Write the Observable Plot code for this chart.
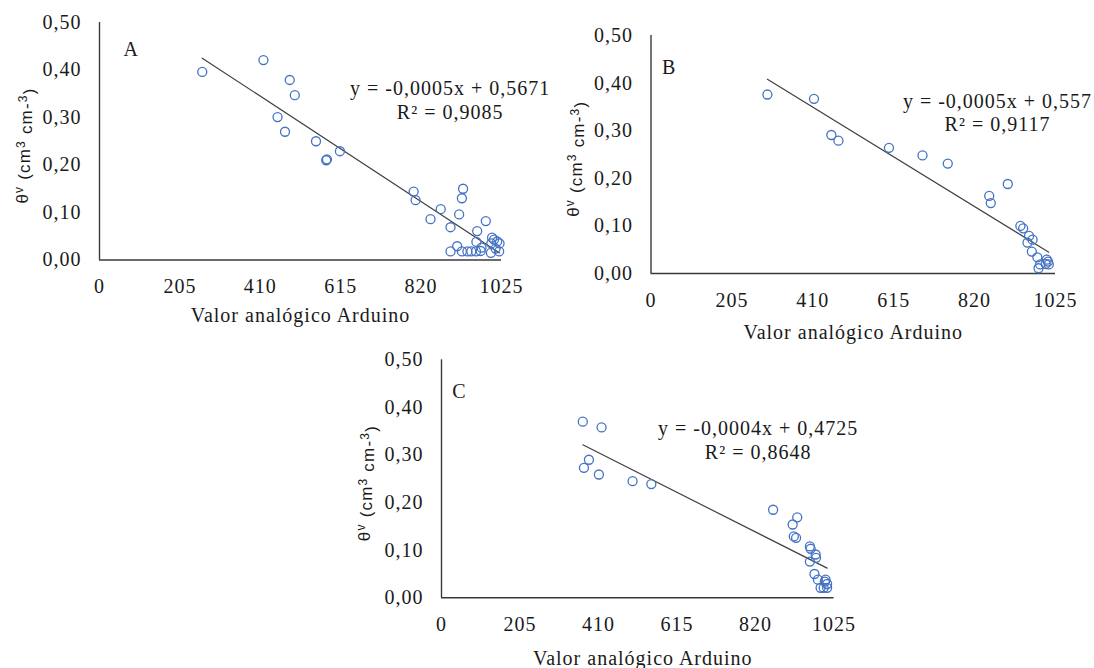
<!DOCTYPE html>
<html><head><meta charset="utf-8">
<script src="https://cdn.jsdelivr.net/npm/d3@7"></script>
<script src="https://cdn.jsdelivr.net/npm/@observablehq/plot@0.6"></script>
<style>
body{margin:0;background:#fff;}
#wrap{position:relative;width:1094px;height:668px;overflow:hidden;background:#fff;}
#wrap svg{position:absolute;}
#wrap svg text{font-family:"Liberation Serif","Times New Roman",serif !important;font-size:20px;letter-spacing:1px;}
#wrap svg text.ylab{font-family:"Liberation Sans",Arial,sans-serif !important;font-size:17px;letter-spacing:1.2px;}
</style></head><body><div id="wrap"></div>
<script>
const xTicks = [0, 205, 410, 615, 820, 1025];
const yTicks = [0, 0.1, 0.2, 0.3, 0.4, 0.5];
const xLabel = "Valor analógico Arduino";
const panelLetters = ["A", "B", "C"];
const equations = ["y = -0,0005x + 0,5671", "y = -0,0005x + 0,557", "y = -0,0004x + 0,4725"];
const rSquared = ["R² = 0,9085", "R² = 0,9117", "R² = 0,8648"];

const aX = [262,418,485,498,454,473,552,578,580,613,801,806,844,870,895,927,924,917,985,963,961,912,895,924,938,948,960,972,974,1001,1006,1014,999,1020,1019,998,1010];
const aY = [0.396,0.421,0.379,0.347,0.301,0.270,0.250,0.210,0.212,0.229,0.144,0.126,0.086,0.107,0.069,0.150,0.130,0.096,0.082,0.061,0.038,0.029,0.018,0.018,0.018,0.018,0.018,0.019,0.026,0.047,0.043,0.039,0.035,0.035,0.018,0.015,0.024];

const bX = [295,413,457,475,603,688,752,904,857,861,936,943,958,967,954,965,979,986,982,1003,1006,1008,1000];
const bY = [0.376,0.367,0.291,0.279,0.264,0.248,0.231,0.188,0.163,0.148,0.100,0.095,0.079,0.071,0.065,0.046,0.034,0.019,0.011,0.029,0.025,0.019,0.020];

const cX = [369,418,385,372,411,499,548,866,929,917,920,926,962,964,977,978,962,974,983,1003,1001,990,998,1007,1007];
const cY = [0.370,0.358,0.290,0.273,0.259,0.245,0.239,0.185,0.169,0.154,0.129,0.126,0.108,0.103,0.091,0.084,0.076,0.050,0.038,0.038,0.034,0.021,0.021,0.021,0.029];

const fmtY = d => d.toFixed(2).replace(".", ",");
const ink = "#1a1a1a";
const axisColor = "#3a3a3a";

function makePanel(xs, ys, i, c) {
  const data = xs.map((x, j) => ({x, y: ys[j]}));
  const plot = Plot.plot({
    width: c.w, height: c.h,
    marginLeft: c.ml, marginRight: c.mr, marginTop: c.mt, marginBottom: c.mb,
    x: {domain: [0, 1025]},
    y: {domain: [0, 0.5]},
    style: {fontFamily: "'Liberation Serif', 'Times New Roman', serif", fontSize: "20px", color: ink, background: "transparent", overflow: "visible"},
    marks: [
      Plot.axisX({ticks: xTicks, tickSize: 0, tickPadding: 19, label: null, tickFormat: d => String(d), fill: ink}),
      Plot.axisY({ticks: yTicks, tickSize: 0, tickPadding: 18, label: null, tickFormat: fmtY, fill: ink}),
      Plot.ruleY([0], {stroke: axisColor, strokeWidth: 1.4}),
      Plot.ruleX([0], {stroke: axisColor, strokeWidth: 1.4}),
      Plot.linearRegressionY(data, {x: "x", y: "y", ci: 0, stroke: "#404040", strokeWidth: 1.2}),
      Plot.dot(data, {x: "x", y: "y", r: 4.5, stroke: "#4472C4", strokeWidth: 1.3, fill: "none"}),
      Plot.text([equations[i]], {x: c.eqX, y: c.eqY1, text: d => d, fill: ink}),
      Plot.text([rSquared[i]], {x: c.eqX, y: c.eqY2, text: d => d, fill: ink}),
      Plot.text([panelLetters[i]], {x: c.lx, y: c.ly, text: d => d, fill: ink}),
      Plot.text([xLabel], {frameAnchor: "bottom", lineAnchor: "middle", dy: c.xlDy, dx: c.xlDx || 0, text: d => d, fill: ink})
    ]
  });
  plot.style.left = c.left + "px";
  plot.style.top = c.top + "px";
  const sx = plot.scale("x"), sy = plot.scale("y");
  const cx = sx.apply(0) - 77, cy = sy.apply(0.24);
  const t = d3.select(plot).append("text")
    .attr("class", "ylab")
    .attr("transform", `translate(${cx},${cy}) rotate(-90)`)
    .attr("text-anchor", "middle")
    .attr("dy", "0.35em")
    .attr("fill", ink);
  const parts = [["θ", false], ["v", true], [" (cm", false], ["3", true], [" cm-", false], ["3", true], [")", false]];
  let raised = false;
  for (const [s, sup] of parts) {
    const ts = t.append("tspan").text(s);
    if (sup && !raised) { ts.attr("dy", "-0.45em").style("font-size", "12px"); raised = true; }
    else if (!sup && raised) { ts.attr("dy", "0.45em"); raised = false; }
    else if (sup) ts.style("font-size", "12px");
  }
  document.getElementById("wrap").appendChild(plot);
}

makePanel(aX, aY, 0, {left: 0, top: 0, w: 560, h: 335, ml: 99, mr: 59, mt: 22, mb: 75.5,
  eqX: 894, eqY1: 0.360, eqY2: 0.311, lx: 81, ly: 0.443, xlDy: 55.5});
makePanel(bX, bY, 1, {left: 560, top: 0, w: 534, h: 350, ml: 90.5, mr: 39, mt: 35, mb: 77,
  eqX: 878, eqY1: 0.361, eqY2: 0.312, lx: 46, ly: 0.433, xlDy: 58.7});
makePanel(cX, cY, 2, {left: 340, top: 340, w: 560, h: 328, ml: 101, mr: 66.5, mt: 19.3, mb: 70.7,
  eqX: 827, eqY1: 0.356, eqY2: 0.306, lx: 47, ly: 0.434, xlDy: 60.7, xlDx: 5});
</script></body></html>
